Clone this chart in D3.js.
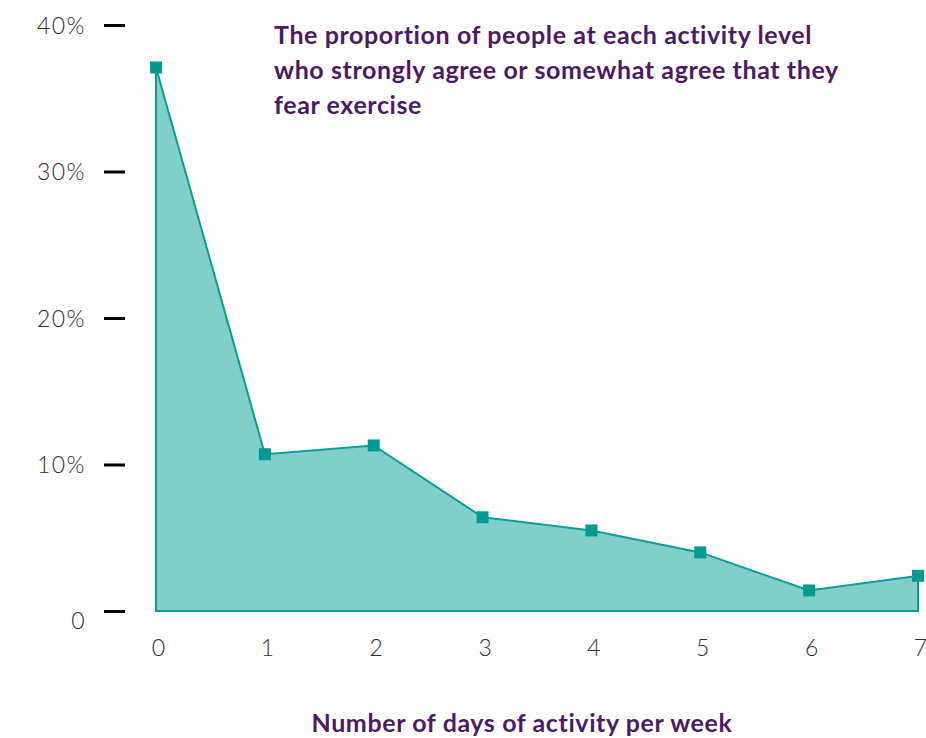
<!DOCTYPE html>
<html>
<head>
<meta charset="utf-8">
<script src="https://cdn.jsdelivr.net/npm/d3@7"></script>
<style>
  html, body { margin: 0; padding: 0; background: #ffffff; }
  svg { display: block; }
</style>
</head>
<body>
<svg id="chart" width="926" height="738"></svg>
<script>
// Days of activity per week and share who fear exercise (%)
const days = [0, 1, 2, 3, 4, 5, 6, 7];
const fearShare = [37.1, 10.7, 11.3, 6.4, 5.5, 4.0, 1.4, 2.4];
const yTickValues = [0, 10, 20, 30, 40];
const yTickLabels = ["0", "10%", "20%", "30%", "40%"];
const titleLines = [
  "The proportion of people at each activity level",
  "who strongly agree or somewhat agree that they",
  "fear exercise"
];
const xAxisTitle = "Number of days of activity per week";

const svg = d3.select("#chart");
const purple = "#4b1a63";
const teal = "#0a9e94";
const tealFill = "#80cfc9";
const labelFont = "Lato, 'Open Sans', sans-serif";

const x = d3.scaleLinear().domain([0, 7]).range([156, 918]);
const y = d3.scaleLinear().domain([0, 40]).range([611, 25]);

const data = days.map((d, i) => ({ day: d, value: fearShare[i] }));

// Filled area with outline
const area = d3.area()
  .x(d => x(d.day))
  .y0(y(0))
  .y1(d => y(d.value));

svg.append("path")
  .datum(data)
  .attr("d", area(data) + "Z")
  .attr("fill", tealFill)
  .attr("stroke", teal)
  .attr("stroke-width", 2)
  .attr("stroke-linejoin", "miter");

// Square markers
svg.append("g").selectAll("rect")
  .data(data)
  .join("rect")
  .attr("x", d => x(d.day) - 6)
  .attr("y", d => y(d.value) - 6)
  .attr("width", 12)
  .attr("height", 12)
  .attr("fill", "#009a8e");

// Y axis: short dash ticks with labels
const yAxis = d3.axisLeft(y)
  .tickValues(yTickValues)
  .tickSize(0)
  .tickPadding(0)
  .tickFormat((d, i) => yTickLabels[i]);

const yg = svg.append("g").attr("transform", "translate(125,0)").call(yAxis);
yg.select(".domain").remove();
yg.selectAll(".tick line")
  .attr("x1", -21).attr("x2", 0)
  .attr("stroke", "#000").attr("stroke-width", 3);
yg.selectAll(".tick text")
  .attr("x", -39)
  .attr("dy", (d) => d === 0 ? "0.75em" : "0.35em")
  .attr("fill", "#2e2e2e")
  .style("font-family", labelFont)
  .style("font-weight", 300)
  .style("font-size", "23px")
  .style("letter-spacing", "1.5px");

// X axis labels
const xAxis = d3.axisBottom(x)
  .tickValues(days)
  .tickSize(0)
  .tickPadding(0)
  .tickFormat(d3.format("d"));

const xg = svg.append("g").attr("transform", "translate(0,640)").call(xAxis);
xg.select(".domain").remove();
xg.selectAll(".tick text")
  .attr("dx", 2)
  .attr("dy", "0.71em")
  .attr("fill", "#2e2e2e")
  .style("font-family", labelFont)
  .style("font-weight", 300)
  .style("font-size", "23px");

// Title block
const title = svg.append("text")
  .attr("x", 274)
  .attr("y", 44)
  .attr("fill", purple)
  .style("font-family", labelFont)
  .style("font-weight", 700)
  .style("font-size", "25px")
  .style("letter-spacing", "0.6px");
title.selectAll("tspan")
  .data(titleLines)
  .join("tspan")
  .attr("x", 274)
  .attr("dy", (d, i) => i === 0 ? 0 : 35)
  .text(d => d);

// X axis title
svg.append("text")
  .attr("x", 522)
  .attr("y", 732)
  .attr("text-anchor", "middle")
  .attr("fill", purple)
  .style("font-family", labelFont)
  .style("font-weight", 700)
  .style("font-size", "25px")
  .style("letter-spacing", "0.6px")
  .text(xAxisTitle);
</script>
</body>
</html>
